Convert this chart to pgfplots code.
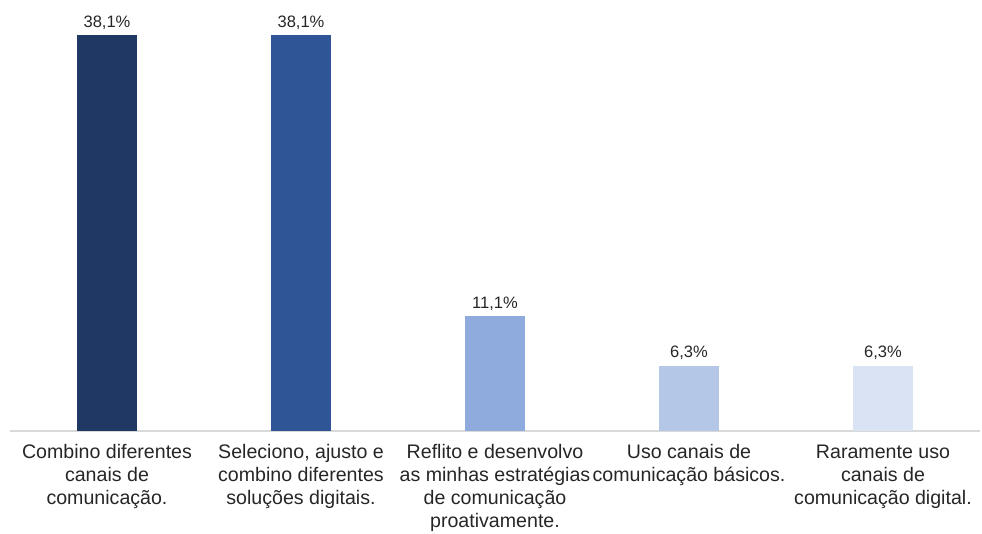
\documentclass[border=0pt]{standalone}
\usepackage{pgfplots}
\pgfplotsset{compat=1.18}
\usepackage{fontspec}
\setmainfont{Liberation Sans}
\definecolor{c1}{HTML}{1F3864}
\definecolor{c2}{HTML}{2F5597}
\definecolor{c3}{HTML}{8FAADC}
\definecolor{c4}{HTML}{B4C7E7}
\definecolor{c5}{HTML}{DAE3F3}
\definecolor{axgray}{HTML}{D9D9D9}
\definecolor{txt}{HTML}{262626}
\begin{document}
\begin{tikzpicture}
\path[use as bounding box] (-7.5pt,-77.25pt) rectangle (729pt,323.25pt);
\begin{axis}[
  at={(0,0)}, anchor=south west,
  scale only axis,
  width=727.5pt, height=323.25pt,
  xmin=-0.5, xmax=4.5, ymin=0, ymax=41.5,
  ybar, bar width=45pt, bar shift=0pt,
  axis x line*=bottom, hide y axis,
  x axis line style={axgray, line width=1.2pt, -},
  xtick={0,1,2,3,4}, major tick length=0pt,
  xticklabels={{Combino diferentes\\canais de\\comunicação.},
               {Seleciono, ajusto e\\combino diferentes\\soluções digitais.},
               {Reflito e desenvolvo\\as minhas estratégias\\de comunicação\\proativamente.},
               {Uso canais de\\comunicação básicos.},
               {Raramente uso\\canais de\\comunicação digital.}},
  xticklabel style={align=center, text=txt, font=\fontsize{14.7}{17.25}\selectfont, inner sep=0pt, anchor=north, yshift=-10pt},
  point meta=explicit symbolic,
  nodes near coords,
  every node near coord/.append style={font=\fontsize{12.4}{14}\selectfont, text=txt, inner sep=0pt, anchor=south, yshift=4pt},
  clip=false,
]
\addplot[fill=c1, draw=none] coordinates {(0,38.1) [38,1\%]};
\addplot[fill=c2, draw=none] coordinates {(1,38.1) [38,1\%]};
\addplot[fill=c3, draw=none] coordinates {(2,11.1) [11,1\%]};
\addplot[fill=c4, draw=none] coordinates {(3,6.3) [6,3\%]};
\addplot[fill=c5, draw=none] coordinates {(4,6.3) [6,3\%]};
\end{axis}
\end{tikzpicture}
\end{document}
